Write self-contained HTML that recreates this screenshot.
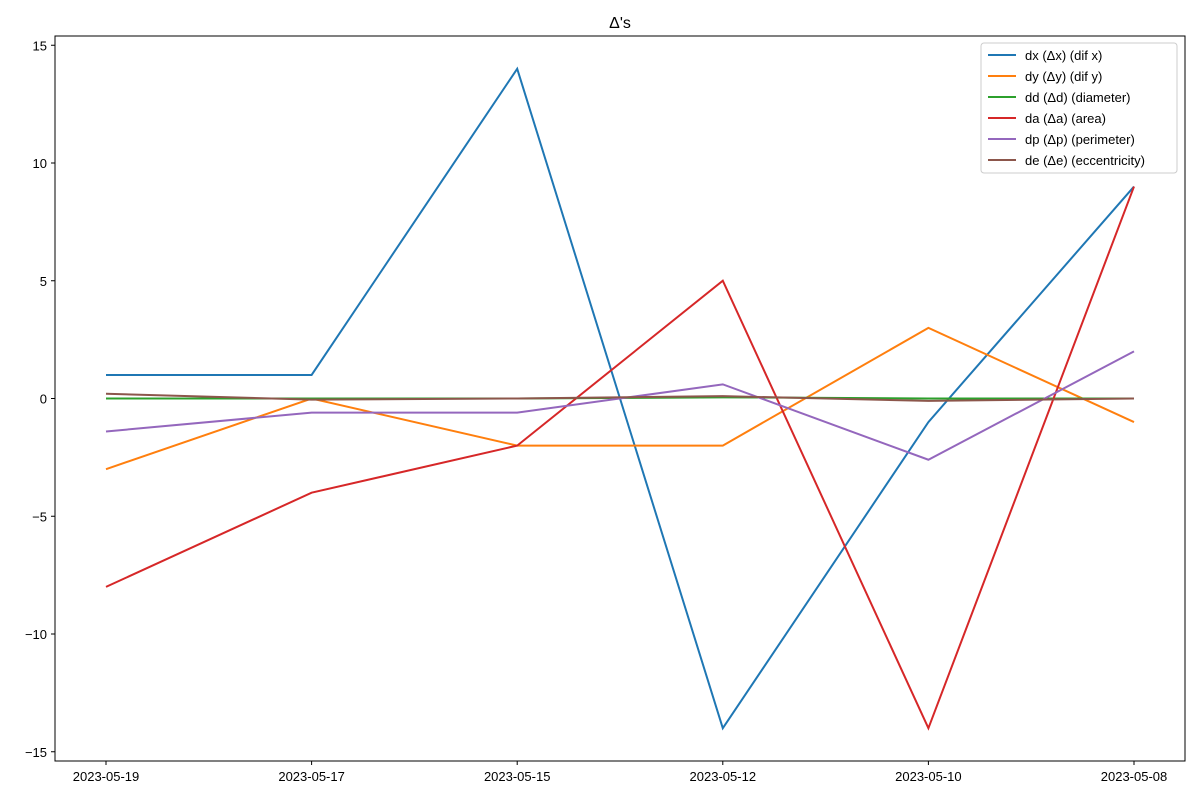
<!DOCTYPE html>
<html><head><meta charset="utf-8"><style>
body{margin:0;background:#fff;}
svg text{font-family:"Liberation Sans",sans-serif;}
</style></head><body>
<svg id="chart" width="1200" height="800" xmlns="http://www.w3.org/2000/svg"></svg>
<script>
const categories=["2023-05-19","2023-05-17","2023-05-15","2023-05-12","2023-05-10","2023-05-08"];
const dx=[1,1,14,-14,-1,9];
const dy=[-3,0,-2,-2,3,-1];
const dd=[0,0,0,0.05,0,0];
const da=[-8,-4,-2,5,-14,9];
const dp=[-1.4,-0.6,-0.6,0.6,-2.6,2];
const de=[0.2,-0.05,0,0.1,-0.1,0];
const yTicks=[-15,-10,-5,0,5,10,15];
const seriesNames=["dx (Δx) (dif x)","dy (Δy) (dif y)","dd (Δd) (diameter)","da (Δa) (area)","dp (Δp) (perimeter)","de (Δe) (eccentricity)"];
const series=[dx,dy,dd,da,dp,de];
const colors=["#1f77b4","#ff7f0e","#2ca02c","#d62728","#9467bd","#8c564b"];
const L=55,R=1185,T=36,B=761;
const x0=106,x1=1134;
const xs=i=>x0+(x1-x0)*i/(categories.length-1);
const ys=v=>398.5-v*23.55;
const svg=document.getElementById('chart');
const NS="http://www.w3.org/2000/svg";
function mk(tag,attrs,parent){const e=document.createElementNS(NS,tag);for(const k in attrs)e.setAttribute(k,attrs[k]);(parent||svg).appendChild(e);return e;}
const title=mk('text',{x:620,y:28,'text-anchor':'middle','font-size':16});


title.textContent="Δ's";
yTicks.forEach(v=>{
  const g=mk('g',{});
  
  
  mk('line',{x1:L-4,x2:L,y1:ys(v),y2:ys(v),stroke:'#000'},g);
  const t=mk('text',{x:L-8,y:ys(v)+5,'text-anchor':'end','font-size':13},g);
  t.textContent=v<0?'−'+Math.abs(v):String(v);
});
categories.forEach((c,i)=>{
  const g=mk('g',{});
  
  
  mk('line',{x1:xs(i),x2:xs(i),y1:B,y2:B+4,stroke:'#000'},g);
  const t=mk('text',{x:xs(i),y:B+20,'text-anchor':'middle','font-size':13},g);
  t.textContent=c;
});
series.forEach((s,k)=>{
  const p=mk('polyline',{points:s.map((v,i)=>xs(i)+','+ys(v)).join(' '),fill:'none',stroke:colors[k],'stroke-width':2});
  
  
});
const frame=mk('rect',{x:L,y:T,width:R-L,height:B-T,fill:'none',stroke:'#000','stroke-width':1});


const lg=mk('g',{});


mk('rect',{x:981,y:43,width:196,height:130,rx:3,fill:'#fff',stroke:'#ccc'},lg);
seriesNames.forEach((n,k)=>{
  const g=mk('g',{},lg);
  
  
  const y=55+k*21;
  mk('line',{x1:988,x2:1016,y1:y,y2:y,stroke:colors[k],'stroke-width':2},g);
  const t=mk('text',{x:1025,y:y+5,'font-size':13},g);
  t.textContent=n;
});
</script>
</body></html>
